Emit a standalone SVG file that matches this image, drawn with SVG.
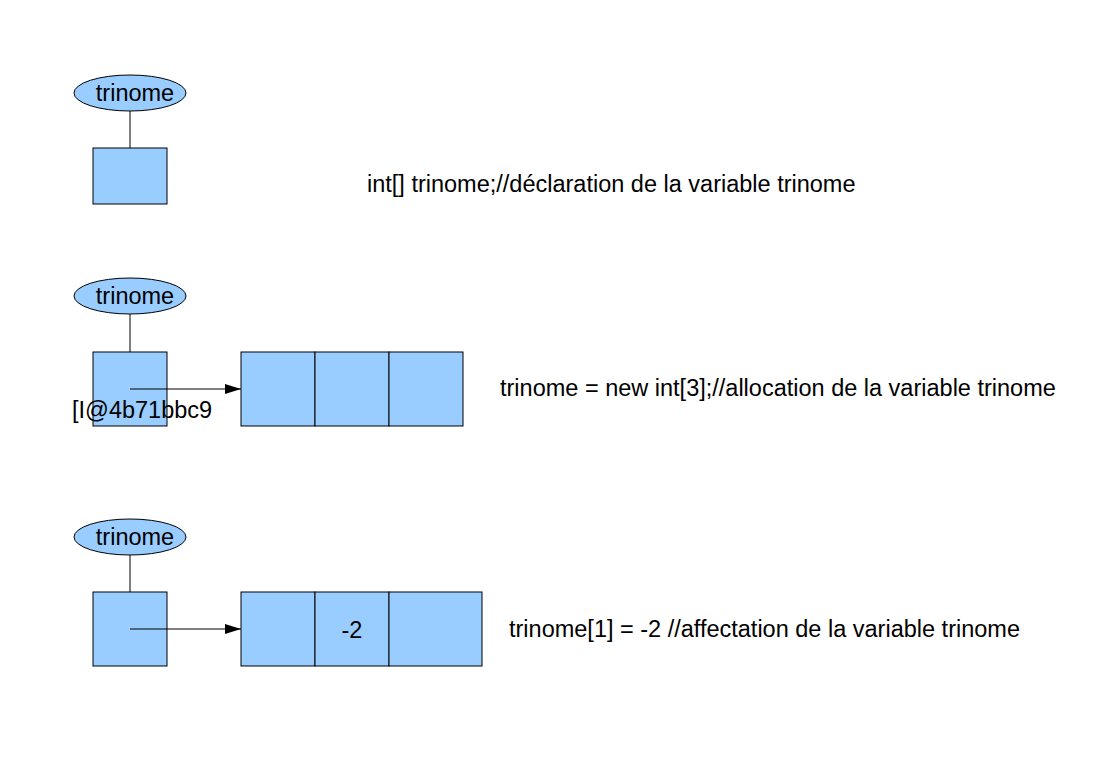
<svg xmlns="http://www.w3.org/2000/svg" width="1099" height="777" viewBox="0 0 1099 777">
<defs>
<style>
.box{fill:#99ccff;stroke:#000;stroke-width:1}
.ln{stroke:#000;stroke-width:1;fill:none}
.t{font-family:"Liberation Sans",Arial,sans-serif;font-size:23.5px;fill:#000}
.c{text-anchor:middle}
</style>
<marker id="arr" markerWidth="16" markerHeight="10" refX="16" refY="5" orient="auto" markerUnits="userSpaceOnUse">
<path d="M0,0 L16,5 L0,10 Z" fill="#000"/>
</marker>
</defs>
<rect width="1099" height="777" fill="#fff"/>
<g id="connectors">
<line class="ln" x1="130" y1="111" x2="130" y2="148"/>
<line class="ln" x1="130" y1="314" x2="130" y2="352"/>
<line class="ln" x1="130" y1="555" x2="130" y2="592"/>
</g>
<g id="var1">
<ellipse class="box" cx="130" cy="93" rx="56" ry="18"/>
<text class="t c" x="135" y="101">trinome</text>
<rect class="box" x="93" y="148" width="74" height="56"/>
</g>
<text id="code1" class="t" x="367" y="192">int[] trinome;//déclaration de la variable trinome</text>
<g id="var2">
<ellipse class="box" cx="130" cy="296" rx="56" ry="18"/>
<text class="t c" x="135" y="304">trinome</text>
<rect class="box" x="93" y="352" width="74" height="74"/>
</g>
<g id="array2">
<rect class="box" x="241" y="352" width="74" height="74"/>
<rect class="box" x="315" y="352" width="74" height="74"/>
<rect class="box" x="389" y="352" width="74" height="74"/>
</g>
<g id="ref2">
<line class="ln" x1="130" y1="389" x2="241" y2="389" marker-end="url(#arr)"/>
</g>
<text id="addr" class="t" x="72" y="418">[I@4b71bbc9</text>
<text id="code2" class="t" x="500" y="396">trinome = new int[3];//allocation de la variable trinome</text>
<g id="var3">
<ellipse class="box" cx="130" cy="537" rx="56" ry="18"/>
<text class="t c" x="135" y="545">trinome</text>
<rect class="box" x="93" y="592" width="74" height="74"/>
</g>
<g id="array3">
<rect class="box" x="241" y="592" width="74" height="74"/>
<rect class="box" x="315" y="592" width="74" height="74"/>
<text class="t c" x="352" y="638">-2</text>
<rect class="box" x="389" y="592" width="93" height="74"/>
</g>
<g id="ref3">
<line class="ln" x1="130" y1="629" x2="241" y2="629" marker-end="url(#arr)"/>
</g>
<text id="code3" class="t" x="509" y="637">trinome[1] = -2 //affectation de la variable trinome</text>
</svg>
